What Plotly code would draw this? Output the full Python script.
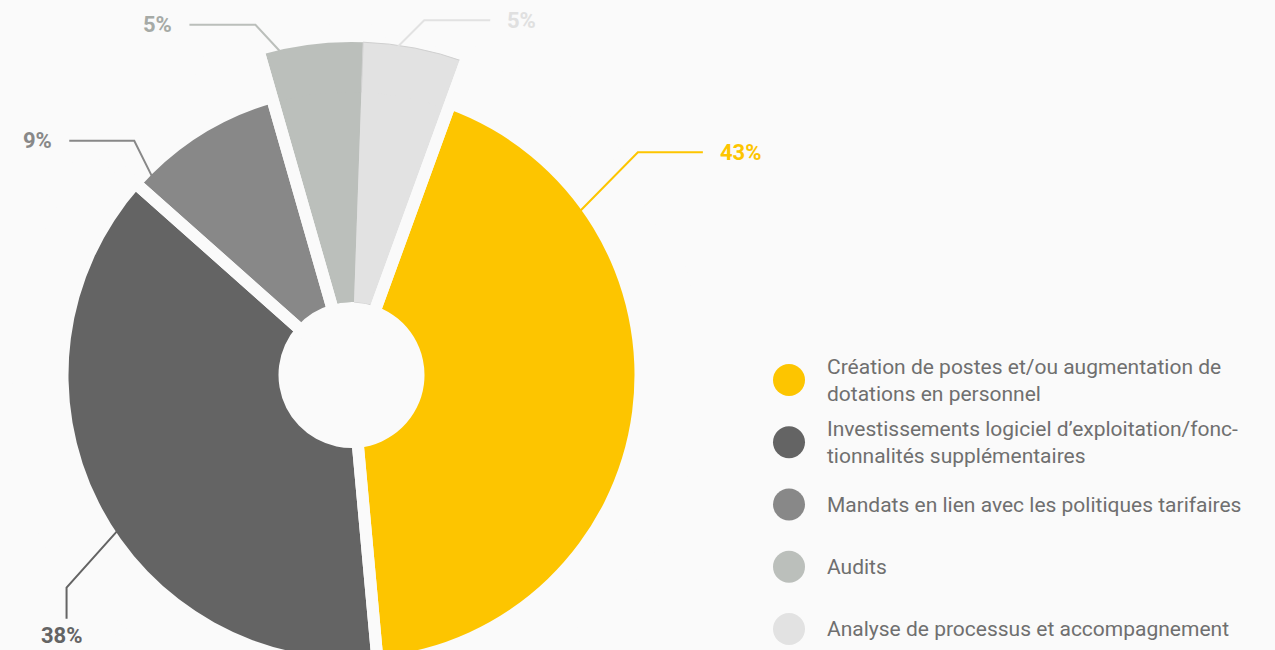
import math
import plotly.graph_objects as go

# ---------------- data ----------------
categories = [
    "Création de postes et/ou augmentation de dotations en personnel",
    "Investissements logiciel d’exploitation/fonctionnalités supplémentaires",
    "Mandats en lien avec les politiques tarifaires",
    "Audits",
    "Analyse de processus et accompagnement",
]
legend_text = [
    "Création de postes et/ou augmentation de<br>dotations en personnel",
    "Investissements logiciel d’exploitation/fonc-<br>tionnalités supplémentaires",
    "Mandats en lien avec les politiques tarifaires",
    "Audits",
    "Analyse de processus et accompagnement",
]
values = [43, 38, 9, 5, 5]
pct_text = ["43%", "38%", "9%", "5%", "5%"]

# ---------------- style ----------------
colors = ["#fdc500", "#646464", "#888888", "#bbbfbb", "#e2e2e2"]
label_colors = ["#fdc500", "#646464", "#888888", "#a6aaa6", "#e0e0e0"]
BG = "#fafafa"
TRANSPARENT = "rgba(0,0,0,0)"
FONT = "Roboto"

W, H = 1275, 720
CX, CY = 351.5, 375.0
R_HOLE, R_MAIN, R_BIG = 73, 283, 333
GAP = 12
ROTATION = 20
raised = [False, False, False, True, True]
anchor_frac = [0.222, 0.45, 0.1, 0.2, 0.33]
elbow_vec = [(58, -59), (-51, 57), (-18, -36), (-25, -27), (27, -27)]
tail_vec = [(65, 0), (0, 31), (-65, 0), (-66, 0), (66, 0)]
LABEL_PAD = 15
LEG_X, LEG_TX, LEG_Y0, LEG_STEP = 789, 825, 380, 62.25


def dom(r):
    return dict(x=[(CX - r) / W, (CX + r) / W],
                y=[1 - (CY + r) / H, 1 - (CY - r) / H])


pie_common = dict(sort=False, direction="clockwise", rotation=ROTATION,
                  textinfo="none", showlegend=False)

fig = go.Figure()

# larger sectors (raised slices only)
fig.add_trace(go.Pie(
    labels=categories, values=values, hole=R_HOLE / R_BIG, domain=dom(R_BIG),
    marker=dict(colors=[c if up else TRANSPARENT for c, up in zip(colors, raised)],
                line=dict(color=[BG, BG, BG, BG, "#d0d0d0"], width=[0, 0, 0, 0, 1])),
    hoverinfo="skip", **pie_common))

# main donut
fig.add_trace(go.Pie(
    labels=categories, values=values, hole=R_HOLE / R_MAIN, domain=dom(R_MAIN),
    marker=dict(colors=colors, line=dict(width=0)),
    hovertemplate="%{label}<br>%{value}%<extra></extra>", **pie_common))

# gap overlay (adjacent raised slices grouped together)
group_vals = []
prev_up = None
for v, up in zip(values, raised):
    if up and prev_up:
        group_vals[-1] += v
    else:
        group_vals.append(v)
    prev_up = up
fig.add_trace(go.Pie(
    labels=[f"g{i}" for i in range(len(group_vals))], values=group_vals, hole=0,
    domain=dom(R_BIG + GAP),
    marker=dict(colors=[TRANSPARENT] * len(group_vals), line=dict(color=BG, width=GAP)),
    hoverinfo="skip", **pie_common))

# leader lines and percentage labels
total = sum(values)
cum = 0
annotations = []
shapes = []
for i, v in enumerate(values):
    a = math.radians(ROTATION + 360 * (cum + anchor_frac[i] * v) / total)
    cum += v
    r0 = (R_BIG if raised[i] else R_MAIN) - 2
    p0 = (CX + r0 * math.sin(a), CY - r0 * math.cos(a))
    p1 = (p0[0] + elbow_vec[i][0], p0[1] + elbow_vec[i][1])
    p2 = (p1[0] + tail_vec[i][0], p1[1] + tail_vec[i][1])
    shapes.append(dict(type="path", xref="x", yref="y", layer="above",
                       path=f"M {p0[0]:.2f},{p0[1]:.2f} L {p1[0]:.2f},{p1[1]:.2f} L {p2[0]:.2f},{p2[1]:.2f}",
                       line=dict(color=colors[i], width=2)))
    tx, ty = tail_vec[i]
    if tx > 0:
        ax, ay, xa, ya = p2[0] + LABEL_PAD, p2[1], "left", "middle"
    elif tx < 0:
        ax, ay, xa, ya = p2[0] - LABEL_PAD, p2[1], "right", "middle"
    else:
        ax, ay, xa, ya = p2[0] - 5, p2[1] + 2, "center", "top"
    annotations.append(dict(x=ax, y=ay, xref="x", yref="y", text=f"<b>{pct_text[i]}</b>",
                            showarrow=False, xanchor=xa, yanchor=ya,
                            font=dict(family=FONT, size=22, color=label_colors[i])))

# legend (circles + text)
leg_y = [LEG_Y0 + LEG_STEP * i for i in range(len(categories))]
fig.add_trace(go.Scatter(x=[LEG_X] * len(categories), y=leg_y, mode="markers",
                         marker=dict(size=32, color=colors),
                         hoverinfo="skip", showlegend=False))
for i, t in enumerate(legend_text):
    annotations.append(dict(x=LEG_TX, y=leg_y[i], xref="x", yref="y", text=t,
                            showarrow=False, xanchor="left", yanchor="middle", align="left",
                            font=dict(family=FONT, size=21, color="#6f6f6f")))

fig.update_layout(
    width=W, height=H, margin=dict(l=0, r=0, t=0, b=0),
    paper_bgcolor=BG, plot_bgcolor=BG, showlegend=False,
    xaxis=dict(range=[0, W], visible=False, fixedrange=True),
    yaxis=dict(range=[H, 0], visible=False, fixedrange=True),
    annotations=annotations, shapes=shapes,
)

fig.write_html("out.html", config={"displayModeBar": False},
               post_script="document.body.style.margin='0';document.body.style.background='" + BG + "';")
